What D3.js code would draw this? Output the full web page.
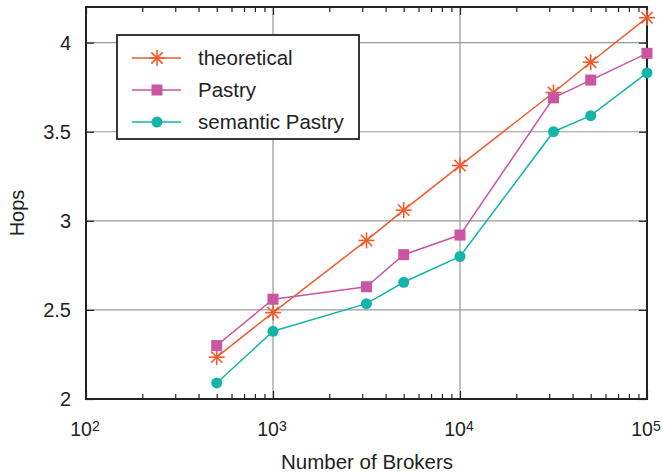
<!DOCTYPE html>
<html>
<head>
<meta charset="utf-8">
<script src="https://cdn.jsdelivr.net/npm/d3@7"></script>
<style>
body { margin: 0; background: #fff; }
text { font-family: "Liberation Sans", Arial, sans-serif; fill: #222; }
</style>
</head>
<body>
<div id="chart"></div>
<script>
let w = 663;
let h = 475;

// data
let brokers = [500, 1000, 3162, 5000, 10000, 31623, 50000, 100000];
let theoretical = [2.235, 2.485, 2.89, 3.06, 3.31, 3.72, 3.89, 4.14];
let pastry = [2.30, 2.56, 2.63, 2.81, 2.92, 3.69, 3.79, 3.94];
let semantic = [2.09, 2.38, 2.535, 2.655, 2.80, 3.50, 3.59, 3.83];
let xTicks = [100, 1000, 10000, 100000];
let yTicks = [2, 2.5, 3, 3.5, 4];

let series = [
  {name: "theoretical", values: theoretical, color: "#f15a2b", marker: "star"},
  {name: "Pastry", values: pastry, color: "#c955a3", marker: "square"},
  {name: "semantic Pastry", values: semantic, color: "#14b4aa", marker: "circle"}
];

let plotLeft = 86, plotRight = 647, plotTop = 7, plotBottom = 399;

let viz = d3.select("#chart").append("svg")
    .attr("width", w)
    .attr("height", h);

let x = d3.scaleLog().domain([100, 100000]).range([plotLeft, plotRight]);
let y = d3.scaleLinear().domain([2, 4.2]).range([plotBottom, plotTop]);

///////////////////////////////////////////////////////////////
// grid
viz.selectAll(".gx").data(xTicks.slice(1, 3)).enter()
  .append("line")
    .attr("x1", d => x(d)).attr("x2", d => x(d))
    .attr("y1", plotTop).attr("y2", plotBottom)
    .attr("stroke", "#999").attr("stroke-width", 1.2);

viz.selectAll(".gy").data(yTicks.slice(1)).enter()
  .append("line")
    .attr("x1", plotLeft).attr("x2", plotRight)
    .attr("y1", d => y(d)).attr("y2", d => y(d))
    .attr("stroke", "#999").attr("stroke-width", 1.2);

///////////////////////////////////////////////////////////////
// axes (ticks pointing in)
let xMinor = [];
for (let e = 100; e < 100000; e *= 10) {
  for (let k = 2; k <= 9; k++) xMinor.push(e * k);
}

let bottomAxis = d3.axisBottom(x).tickValues(xMinor).tickSize(-5).tickFormat("");
let topAxis = d3.axisTop(x).tickValues(xMinor).tickSize(-5).tickFormat("");
let bottomMajor = d3.axisBottom(x).tickValues(xTicks).tickSize(-8).tickFormat("");
let topMajor = d3.axisTop(x).tickValues(xTicks).tickSize(-8).tickFormat("");
let leftAxis = d3.axisLeft(y).tickValues(yTicks).tickSize(-8).tickFormat("");
let rightAxis = d3.axisRight(y).tickValues(yTicks).tickSize(-8).tickFormat("");

[[bottomAxis, "0," + plotBottom], [topAxis, "0," + plotTop], [bottomMajor, "0," + plotBottom],
 [topMajor, "0," + plotTop], [leftAxis, plotLeft + ",0"], [rightAxis, plotRight + ",0"]].forEach(function(a) {
  let g = viz.append("g").attr("transform", "translate(" + a[1] + ")").call(a[0]);
  g.select(".domain").remove();
  g.selectAll("line").attr("stroke", "#222").attr("stroke-width", 1.2);
});

viz.append("rect")
  .attr("x", plotLeft).attr("y", plotTop)
  .attr("width", plotRight - plotLeft).attr("height", plotBottom - plotTop)
  .attr("fill", "none").attr("stroke", "#222").attr("stroke-width", 2);

// tick labels
viz.selectAll(".ylab").data(yTicks).enter()
  .append("text")
    .attr("x", plotLeft - 15)
    .attr("y", d => y(d) + 7)
    .attr("text-anchor", "end")
    .attr("font-size", 20)
    .text(d => d);

let xl = viz.selectAll(".xlab").data(xTicks).enter()
  .append("text")
    .attr("x", d => x(d) - 1)
    .attr("y", 436)
    .attr("text-anchor", "middle")
    .attr("font-size", 19.5);
xl.append("tspan").text("10");
xl.append("tspan").attr("dy", -5).attr("font-size", 14).text(d => Math.round(Math.log10(d)));

viz.append("text")
  .attr("x", 367)
  .attr("y", 469)
  .attr("text-anchor", "middle")
  .attr("font-size", 20.5)
  .text("Number of Brokers");

viz.append("text")
  .attr("transform", "translate(24," + ((plotTop + plotBottom) / 2 + 10) + ") rotate(-90)")
  .attr("text-anchor", "middle")
  .attr("font-size", 20)
  .text("Hops");

///////////////////////////////////////////////////////////////
// markers
function drawMarker(g, kind, color) {
  if (kind == "star") {
    let r = 8;
    for (let a = 0; a < 4; a++) {
      let ang = a * Math.PI / 4;
      g.append("line")
        .attr("x1", -r * Math.cos(ang)).attr("y1", -r * Math.sin(ang))
        .attr("x2", r * Math.cos(ang)).attr("y2", r * Math.sin(ang))
        .attr("stroke", color).attr("stroke-width", 1.6);
    }
  } else if (kind == "square") {
    g.append("rect").attr("x", -5.5).attr("y", -5.5).attr("width", 11).attr("height", 11)
      .attr("fill", color);
  } else {
    g.append("circle").attr("r", 5.5).attr("fill", color);
  }
}

let line = d3.line().x((d, i) => x(brokers[i])).y(d => y(d));

series.forEach(function(s) {
  viz.append("path")
    .attr("d", line(s.values))
    .attr("fill", "none")
    .attr("stroke", s.color)
    .attr("stroke-width", 1.5);
  s.values.forEach(function(v, i) {
    let g = viz.append("g").attr("transform", "translate(" + x(brokers[i]) + "," + y(v) + ")");
    drawMarker(g, s.marker, s.color);
  });
});

///////////////////////////////////////////////////////////////
// legend
let legend = viz.append("g");
legend.append("rect")
  .attr("x", 117).attr("y", 35).attr("width", 242).attr("height", 104)
  .attr("fill", "#fff").attr("stroke", "#222").attr("stroke-width", 1.8);

series.forEach(function(s, i) {
  let ly = 58 + i * 32;
  legend.append("line")
    .attr("x1", 132).attr("x2", 181).attr("y1", ly).attr("y2", ly)
    .attr("stroke", s.color).attr("stroke-width", 1.5);
  let g = legend.append("g").attr("transform", "translate(157," + ly + ")");
  drawMarker(g, s.marker, s.color);
  legend.append("text")
    .attr("x", 198).attr("y", ly + 7)
    .attr("font-size", 20.5)
    .text(s.name);
});
</script>
</body>
</html>
